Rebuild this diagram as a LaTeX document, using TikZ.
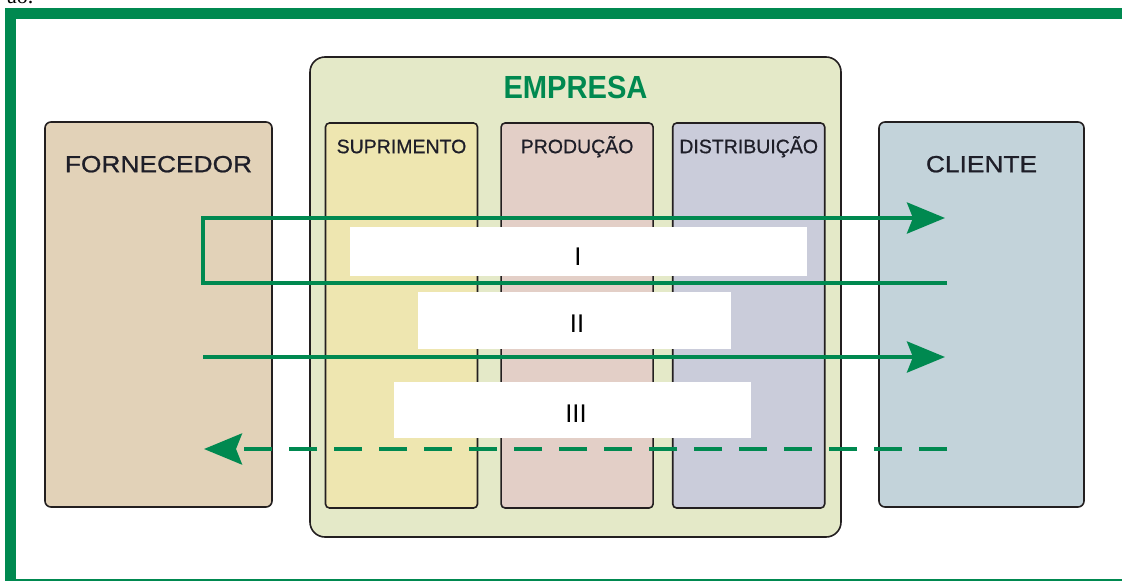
\documentclass[tikz,border=0pt]{standalone}
\usepackage{fontspec}
\setmainfont{Liberation Sans}
\newfontfamily\largo[FakeStretch=1.13,FakeBold=0.9]{Liberation Sans}
\newfontfamily\medio[FakeBold=0.7]{Liberation Sans}
\newfontfamily\estreito[FakeStretch=0.91]{Liberation Sans}
\newfontfamily\serifa{Liberation Serif}
\usetikzlibrary{positioning,arrows.meta}

\definecolor{verde}{RGB}{0,137,80}
\definecolor{contorno}{RGB}{35,31,32}
\definecolor{texto}{RGB}{30,30,40}
\definecolor{corforn}{RGB}{226,210,184}
\definecolor{corcli}{RGB}{195,211,218}
\definecolor{coremp}{RGB}{228,233,200}
\definecolor{corsup}{RGB}{238,230,176}
\definecolor{corprod}{RGB}{227,207,199}
\definecolor{cordist}{RGB}{202,204,218}

\begin{document}
\begin{tikzpicture}[x=1pt,y=-1pt,>={Stealth[length=38pt,width=31pt,inset=6pt]},
                    node distance=22pt]
  \tikzset{bloco/.style={draw=contorno, line width=1.6pt, rounded corners=6pt, inner sep=0pt},
           setor/.style={bloco, rounded corners=4pt, minimum width=152pt, minimum height=385pt},
           rotulo/.style={font=\largo\fontsize{23.3}{24}\selectfont, text=texto, anchor=base},
           rotsetor/.style={font=\medio\fontsize{19.5}{20}\selectfont, text=texto, anchor=base},
           fluxo/.style={draw=verde, line width=4pt},
           caixa/.style={fill=white, inner sep=0pt},
           numeral/.style={font=\fontsize{25.6}{26}\selectfont, anchor=base}}

 \useasboundingbox (0,0) rectangle (1122,581);

 % moldura
 \draw[verde, line width=11pt] (10.5,13.5) rectangle (1140,584.5);
 \node[font=\serifa\fontsize{22}{22}\selectfont, anchor=base west, inner sep=0pt] (resto) at (7,3) {ao.};

 \node[bloco, fill=corforn, minimum width=227pt, minimum height=385pt](fornecedor) at (158.5,314.5) {};
 \node[bloco, fill=corcli, minimum width=205pt, minimum height=385pt](cliente) at (981.5,314.5) {};
 \node[bloco, fill=coremp, rounded corners=15pt, minimum width=531pt, minimum height=480pt](empresa) at (575.5,297) {};

 \node[setor, fill=corsup](suprimento) at (401.5,315.5) {};
 \node[setor, fill=corprod, right=of suprimento](producao) {};
 \node[setor, fill=cordist, right=18pt of producao](distribuicao) {};

 \node[rotulo] at ([yshift=-51pt]fornecedor.north) {FORNECEDOR};
 \node[rotulo] at ([yshift=-51pt]cliente.north) {CLIENTE};
 \node[font=\estreito\bfseries\fontsize{32}{32}\selectfont, text=verde, anchor=base]
   at ([yshift=-42pt]empresa.north) {EMPRESA};
 \node[rotsetor] at ([yshift=-31pt]suprimento.north) {SUPRIMENTO};
 \node[rotsetor] at ([yshift=-31pt]producao.north) {PRODUÇÃO};
 \node[rotsetor] at ([yshift=-31pt]distribuicao.north) {DISTRIBUIÇÃO};

 % fluxos
 \coordinate (lacoA) at (947,283);
 \coordinate (lacoB) at (203,283);
 \coordinate (lacoC) at (203,218);
 \coordinate (lacoD) at (945,218);
 \coordinate (bensA) at (203,357);
 \coordinate (bensB) at (945,357);
 \coordinate (infoA) at (947,449);
 \coordinate (infoB) at (204,449);

 \draw[fluxo,->] (lacoA) -- (lacoB) -- (lacoC) -- (lacoD);
 \draw[fluxo,->] (bensA) -- (bensB);
 \draw[fluxo,->,dash pattern=on 28pt off 17pt] (infoA) -- (infoB);

 \node[caixa, minimum width=457pt, minimum height=49pt](caixaI) at (578.5,251.5) {};
 \node[caixa, minimum width=313pt, minimum height=57pt](caixaII) at (574.5,320.5) {};
 \node[caixa, minimum width=357pt, minimum height=56pt](caixaIII) at (572.5,410) {};

 \node[numeral] at (578,265) {I};
 \node[numeral] at (577,332) {II};
 \node[numeral] at (576,422) {III};

\end{tikzpicture}
\end{document}
